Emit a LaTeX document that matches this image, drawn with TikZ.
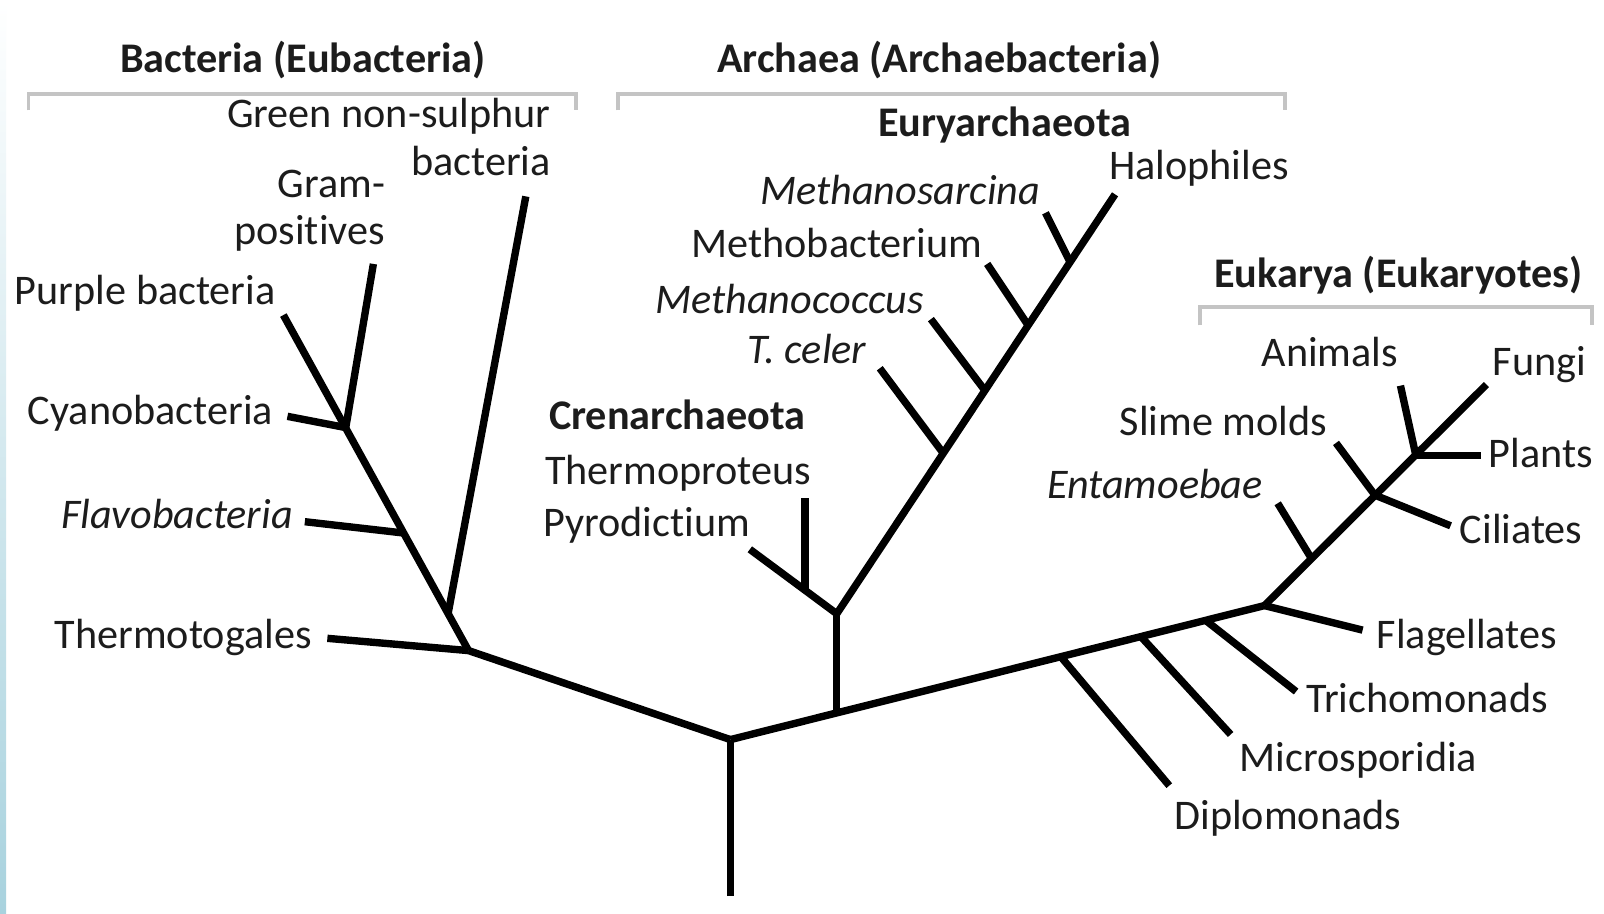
\documentclass[tikz,border=0pt]{standalone}
\usepackage{fontspec}
\setmainfont{Carlito}[Ligatures=NoCommon]
\usetikzlibrary{positioning}
\definecolor{BracketGray}{RGB}{196,196,196}
\definecolor{LabelInk}{RGB}{28,28,28}
\definecolor{EdgeBlue}{RGB}{168,210,222}

\begin{document}
\begin{tikzpicture}[x=0.01023cm, y=-0.01023cm, font=\fontsize{12}{13.5}\selectfont, every node/.style={align=center}]
\tikzset{
  taxon/.style={text=LabelInk, inner sep=0pt, text height=8pt, text depth=0pt},
  twoline/.style={text=LabelInk, inner sep=0pt, align=right},
  clade/.style={taxon, font=\fontsize{12}{13.5}\selectfont\bfseries},
  genus/.style={taxon, font=\fontsize{12}{13.5}\selectfont\itshape},
  branch/.style={line width=2.1pt, black},
  brk/.style={line width=1pt, BracketGray}
}
  \fill[white] (0,0) rectangle (1568,893);
  \shade[top color=white, bottom color=EdgeBlue] (0,0) rectangle (6,893);

  \node[clade] (hdBac) at (296,57) {Bacteria (Eubacteria)};
  \node[clade] (hdArc) at (918,57) {Archaea (Archaebacteria)};
  \node[clade] (hdEuk) at (1367,267) {Eukarya (Eukaryotes)};
  \draw[brk] (28,108) -- (28,92) -- (563,92) -- (563,108);
  \draw[brk] (604,108) -- (604,92) -- (1256,92) -- (1256,108);
  \draw[brk] (1173,318) -- (1173,300) -- (1556,300) -- (1556,318);

  \node[twoline, anchor=east] (grn) at (539,134) {Green non-sulphur\\bacteria};
  \node[twoline, anchor=east] (grm) at (377,206) {Gram-\\positives};
  \node[taxon] (prp) at (142,284) {Purple bacteria};
  \node[taxon] (cya) at (147,401) {Cyanobacteria};
  \node[genus] (flv) at (173,503) {Flavobacteria};
  \node[taxon] (tmg) at (179,620) {Thermotogales};

  \node[clade] (cren) at (662,406) {Crenarchaeota};
  \node[taxon] (thp) at (663,460) {Thermoproteus};
  \node[taxon] (pyr) at (632,511) {Pyrodictium};
  \node[clade] (eury) at (982,120) {Euryarchaeota};
  \node[taxon] (hal) at (1172,162) {Halophiles};
  \node[genus] (msa) at (880,186) {Methanosarcina};
  \node[taxon] (mbc) at (818,238) {Methobacterium};
  \node[genus] (mcc) at (772,293) {Methanococcus};
  \node[genus] (tcl) at (789,342) {T. celer};

  \node[taxon] (ani) at (1300,345) {Animals};
  \node[taxon] (fng) at (1505,353) {Fungi};
  \node[taxon] (slm) at (1196,412) {Slime molds};
  \node[taxon] (pln) at (1506,443) {Plants};
  \node[genus] (ent) at (1129,474) {Entamoebae};
  \node[taxon] (cil) at (1487,518) {Ciliates};
  \node[taxon] (flg) at (1434,620) {Flagellates};
  \node[taxon] (trc) at (1395,683) {Trichomonads};
  \node[taxon] (mic) at (1328,740) {Microsporidia};
  \node[taxon] (dpl) at (1259,797) {Diplomonads};

  \coordinate (rootbase) at (714,876);
  \coordinate (root) at (714,723);
  \coordinate (bacJ) at (458,636);
  \coordinate (tmgEnd) at (320,624);
  \coordinate (prpEnd) at (277,308);
  \coordinate (grnJ) at (438,600);
  \coordinate (grnEnd) at (514,192);
  \coordinate (flvJ) at (394,521);
  \coordinate (flvEnd) at (298,510);
  \coordinate (cyaJ) at (338,418);
  \coordinate (cyaEnd) at (281,407);
  \coordinate (grmEnd) at (365,258);

  \coordinate (arcJ) at (818,697);
  \coordinate (arcA) at (818,600);
  \coordinate (pyrEnd) at (733,537);
  \coordinate (thpJ) at (787,577);
  \coordinate (thpEnd) at (787,487);
  \coordinate (halEnd) at (1090,190);
  \coordinate (tclJ) at (922,443);
  \coordinate (tclEnd) at (860,360);
  \coordinate (mccJ) at (963,382);
  \coordinate (mccEnd) at (910,312);
  \coordinate (mbcJ) at (1005,318);
  \coordinate (mbcEnd) at (965,258);
  \coordinate (msaJ) at (1046,256);
  \coordinate (msaEnd) at (1022,208);

  \coordinate (eukJ) at (1236,592);
  \coordinate (dplJ) at (1037,642);
  \coordinate (dplEnd) at (1143,768);
  \coordinate (micJ) at (1115,622);
  \coordinate (micEnd) at (1203,718);
  \coordinate (trcJ) at (1178,606);
  \coordinate (trcEnd) at (1267,676);
  \coordinate (flgEnd) at (1332,616);
  \coordinate (fngEnd) at (1453,376);
  \coordinate (entJ) at (1282,546);
  \coordinate (entEnd) at (1249,492);
  \coordinate (slmJ) at (1344,484);
  \coordinate (slmEnd) at (1306,433);
  \coordinate (cilEnd) at (1418,514);
  \coordinate (crnJ) at (1384,445);
  \coordinate (aniEnd) at (1369,377);
  \coordinate (plnEnd) at (1448,445);

  \foreach \a/\b in {rootbase/root, root/bacJ, root/eukJ, bacJ/tmgEnd, bacJ/prpEnd,
      grnJ/grnEnd, flvJ/flvEnd, cyaJ/cyaEnd, cyaJ/grmEnd,
      arcJ/arcA, arcA/pyrEnd, thpJ/thpEnd, arcA/halEnd, tclJ/tclEnd, mccJ/mccEnd,
      mbcJ/mbcEnd, msaJ/msaEnd,
      dplJ/dplEnd, micJ/micEnd, trcJ/trcEnd, eukJ/flgEnd, eukJ/fngEnd, entJ/entEnd,
      slmJ/slmEnd, slmJ/cilEnd, crnJ/aniEnd, crnJ/plnEnd}
    \draw[branch] (\a) -- (\b);
\end{tikzpicture}
\end{document}
